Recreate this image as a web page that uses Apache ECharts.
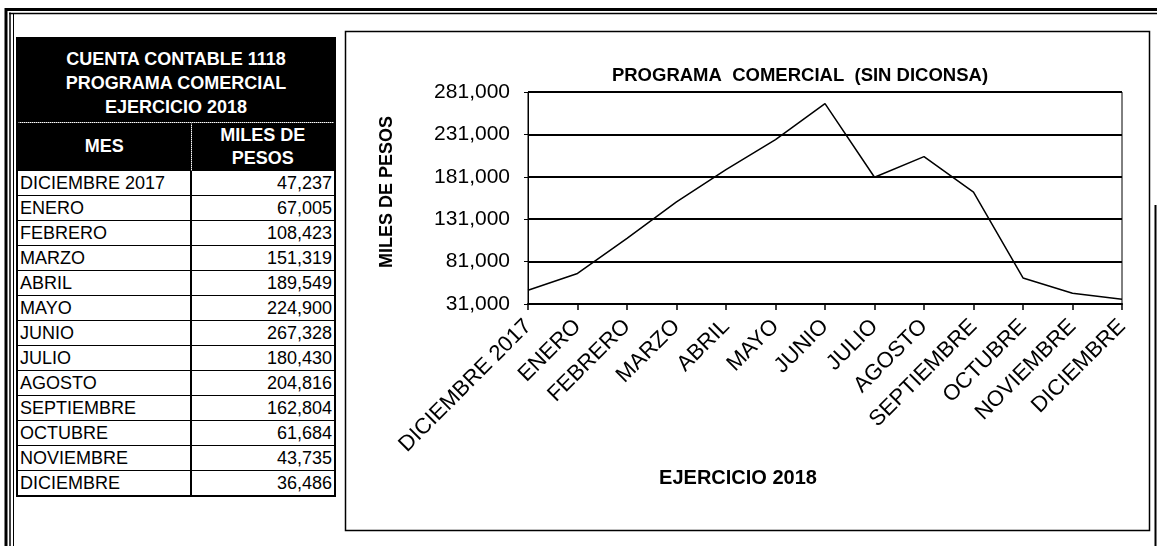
<!DOCTYPE html>
<html>
<head>
<meta charset="utf-8">
<script src="https://cdn.jsdelivr.net/npm/echarts@6/dist/echarts.min.js"></script>
<style>
  html, body { margin: 0; padding: 0; background: #fff; }
  #chart { position: absolute; left: 0; top: 0; width: 1157px; height: 546px; }
  #tbl {
    position: absolute; left: 16px; top: 37px; width: 318px;
    border-collapse: collapse; table-layout: fixed;
    border: 2px solid #000; z-index: 5; background: #fff;
    font-family: "Liberation Sans", Arial, sans-serif; font-size: 18px; color: #000;
  }
  #tbl td { padding: 0; overflow: hidden; white-space: nowrap; }
  #tbl td.hdr { background: #000; color: #fff; font-weight: bold; text-align: center; line-height: 23px; }
  #tbl td.ttl { line-height: 24px; padding-top: 5px; border-bottom: 1px dotted #777; }
  #tbl tr.head td.hdr:first-child { border-right: 1px dotted #777; }
  #tbl tr.data td { height: 24px; line-height: 24px; border-bottom: 1px solid #000; }
  #tbl tr.data td.mes { padding-left: 2px; border-right: 2px solid #000; }
  #tbl tr.data td.val { text-align: right; padding-right: 2px; }
</style>
</head>
<body>
<div id="chart"></div>
<table id="tbl">
  <colgroup><col style="width:174px"><col style="width:144px"></colgroup>
  <tbody id="tbody"></tbody>
</table>
<script>
// ---- data ----
const categories = ['DICIEMBRE 2017', 'ENERO', 'FEBRERO', 'MARZO', 'ABRIL', 'MAYO', 'JUNIO',
  'JULIO', 'AGOSTO', 'SEPTIEMBRE', 'OCTUBRE', 'NOVIEMBRE', 'DICIEMBRE'];
const values = [47237, 67005, 108423, 151319, 189549, 224900, 267328,
  180430, 204816, 162804, 61684, 43735, 36486];
const tableTitleLines = ['CUENTA CONTABLE 1118', 'PROGRAMA COMERCIAL', 'EJERCICIO 2018'];
const tableHeaders = ['MES', 'MILES DE<br>PESOS'];
const chartTitle = 'PROGRAMA  COMERCIAL  (SIN DICONSA)';
const xAxisName = 'EJERCICIO 2018';
const yAxisName = 'MILES DE PESOS';
const yMin = 31000;
const yMax = 281000;
const yStep = 50000;

const fmt = v => Number(v).toLocaleString('en-US');
const FONT = '"Liberation Sans", Arial, sans-serif';

// ---- table ----
let html = '<tr style="height:84px"><td colspan="2" class="hdr ttl">' + tableTitleLines.join('<br>') + '</td></tr>';
html += '<tr class="head" style="height:49px"><td class="hdr">' + tableHeaders[0] + '</td><td class="hdr">' + tableHeaders[1] + '</td></tr>';
categories.forEach((c, i) => {
  html += '<tr class="data"><td class="mes">' + c + '</td><td class="val">' + fmt(values[i]) + '</td></tr>';
});
document.getElementById('tbody').innerHTML = html;

// ---- chart ----
const chart = echarts.init(document.getElementById('chart'), null, { renderer: 'canvas' });
const option = {
  animation: false,
  backgroundColor: '#fff',
  textStyle: { fontFamily: FONT, color: '#000' },
  grid: {
    left: 528, right: 35, top: 92, bottom: 242,
    show: true, borderColor: '#000', borderWidth: 1, backgroundColor: 'transparent'
  },
  xAxis: {
    type: 'category',
    data: categories,
    boundaryGap: false,
    axisLine: { lineStyle: { color: '#000', width: 2 } },
    axisTick: { show: true, inside: false, length: 6, lineStyle: { color: '#000', width: 1.5 } },
    axisLabel: { interval: 0, rotate: 45, margin: 19, fontSize: 22, color: '#000', fontFamily: FONT },
    splitLine: { show: false }
  },
  yAxis: {
    type: 'value',
    min: yMin, max: yMax, interval: yStep,
    name: yAxisName,
    nameLocation: 'middle',
    nameRotate: 90,
    nameGap: 132,
    nameTextStyle: { fontSize: 18, fontWeight: 'bold', color: '#000', fontFamily: FONT, padding: [0, 0, 0, 12] },
    axisLine: { show: true, lineStyle: { color: '#000', width: 1 } },
    axisTick: { show: true, inside: false, length: 4, lineStyle: { color: '#000', width: 1 } },
    axisLabel: { margin: 18, fontSize: 21, color: '#000', fontFamily: FONT, formatter: v => fmt(v) },
    splitLine: { show: true, lineStyle: { color: '#000', width: 2 } }
  },
  series: [{
    type: 'line',
    data: values,
    showSymbol: false,
    symbol: 'none',
    lineStyle: { color: '#000', width: 1.5 },
    z: 3
  }],
  graphic: [
    // outer page frame
    { type: 'line', shape: { x1: 5, y1: 9.5, x2: 1157, y2: 9.5 }, style: { stroke: '#000', lineWidth: 3 } },
    { type: 'line', shape: { x1: 9, y1: 13.5, x2: 1157, y2: 13.5 }, style: { stroke: '#000', lineWidth: 1.5 } },
    { type: 'line', shape: { x1: 6, y1: 8, x2: 6, y2: 546 }, style: { stroke: '#000', lineWidth: 3 } },
    { type: 'line', shape: { x1: 10, y1: 12.5, x2: 10, y2: 546 }, style: { stroke: '#000', lineWidth: 1.5 } },
    { type: 'line', shape: { x1: 13.5, y1: 14, x2: 13.5, y2: 546 }, style: { stroke: '#000', lineWidth: 1 } },
    { type: 'line', shape: { x1: 1155.5, y1: 205, x2: 1155.5, y2: 546 }, style: { stroke: '#000', lineWidth: 2 } },
    // chart box
    { type: 'rect', shape: { x: 345.5, y: 31.5, width: 804, height: 499 }, style: { fill: 'none', stroke: '#000', lineWidth: 1.5 }, z: -1 },
    // chart title
    { type: 'text', x: 800, y: 76, style: { text: chartTitle, align: 'center', verticalAlign: 'middle', font: 'bold 18.5px ' + FONT, fill: '#000' } },
    // x axis name
    { type: 'text', x: 738, y: 478, style: { text: xAxisName, align: 'center', verticalAlign: 'middle', font: 'bold 20px ' + FONT, fill: '#000' } }
  ]
};
chart.setOption(option);
</script>
</body>
</html>
